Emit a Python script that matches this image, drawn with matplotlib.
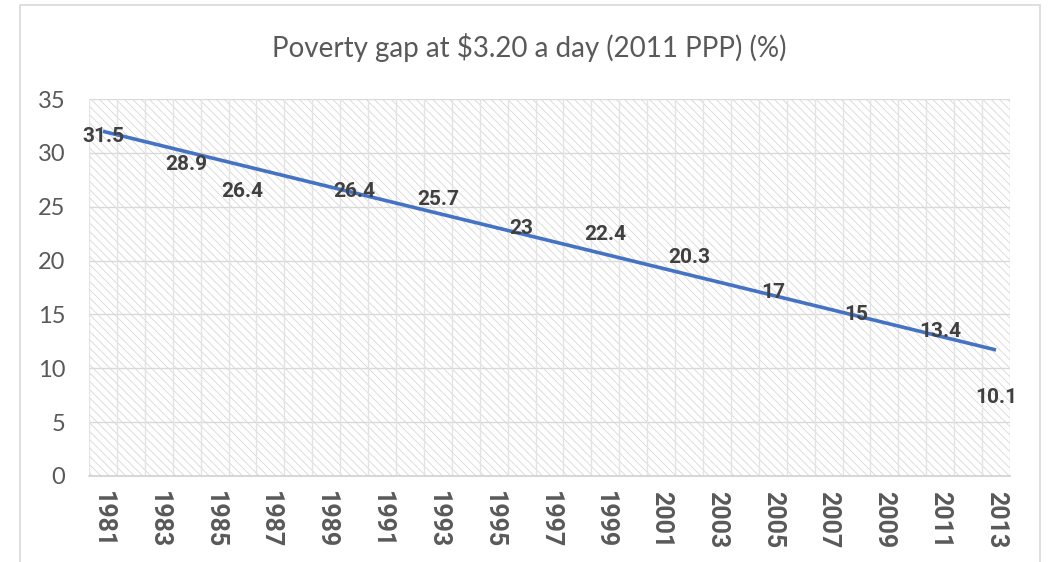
import numpy as np
import matplotlib
matplotlib.use("Agg")
import matplotlib.pyplot as plt
from matplotlib.patches import Rectangle

# data
years = list(range(1981, 2014))
data_years = [1981, 1984, 1986, 1990, 1993, 1996, 1999, 2002, 2005, 2008, 2011, 2013]
gap = [31.5, 28.9, 26.4, 26.4, 25.7, 23, 22.4, 20.3, 17, 15, 13.4, 10.1]
# linear trendline ends
trend_years = [1981, 2013]
trend_vals = [32.0, 11.7]
title = "Poverty gap at $3.20 a day (2011 PPP) (%)"

plt.rcParams['font.family'] = ['Lato', 'DejaVu Sans']
plt.rcParams['hatch.linewidth'] = 0.55
plt.rcParams['hatch.color'] = '#d4d4d4'
BOLD = ['Roboto', 'DejaVu Sans']

fig = plt.figure(figsize=(10.51, 5.62), dpi=100)
ax = fig.add_axes([89 / 1051, 86 / 562, 921 / 1051, 377 / 562])

# outer chart border
fig.patches.append(Rectangle((20 / 1051, -0.02), 1020 / 1051, (557 / 562) + 0.02,
                             transform=fig.transFigure, fill=False,
                             edgecolor='#d9d9d9', linewidth=1.2))

xi = [years.index(y) for y in data_years]

# hatched plot area
ax.add_patch(Rectangle((-0.5, 0), len(years), 35, facecolor='white',
                       hatch='\\\\\\\\', edgecolor='#d4d4d4', linewidth=0, zorder=0))

for v in range(5, 36, 5):
    ax.axhline(v, color='#d9d9d9', linewidth=1.0, zorder=1)
for k in range(len(years) + 1):
    ax.axvline(k - 0.5, color='#e3e3e3', linewidth=1.0, zorder=1)

tx = [years.index(y) for y in trend_years]
ax.plot(tx, trend_vals, color='#4472C4', linewidth=2.6, zorder=3,
        solid_capstyle='butt')

for x, v in zip(xi, gap):
    dy = -22 if x == xi[-1] else 0
    ax.annotate(f"{v:g}", (x, v), xytext=(0, dy), textcoords='offset points',
                ha='center', va='center', fontsize=15, fontweight='bold',
                family=BOLD, color='#404040', zorder=4)

ax.set_xlim(-0.5, len(years) - 0.5)
ax.set_ylim(0, 35)
ax.set_yticks(range(0, 36, 5))
ax.set_xticks(range(0, len(years), 2))
ax.set_xticklabels([str(y) for y in years[::2]], rotation=-90, fontsize=18,
                   fontweight='bold', family=BOLD, color='#595959')
ax.tick_params(axis='y', length=0, pad=17, labelsize=17, labelcolor='#595959')
ax.tick_params(axis='x', length=0, pad=11)
for s in ['top', 'right', 'left']:
    ax.spines[s].set_visible(False)
ax.spines['bottom'].set_color('#d0d0d0')
ax.spines['bottom'].set_linewidth(1.2)

fig.text(529 / 1051, 1 - 47 / 562, title, ha='center', va='center',
         fontsize=20, color='#595959')

fig.savefig("out.png", dpi=100)
